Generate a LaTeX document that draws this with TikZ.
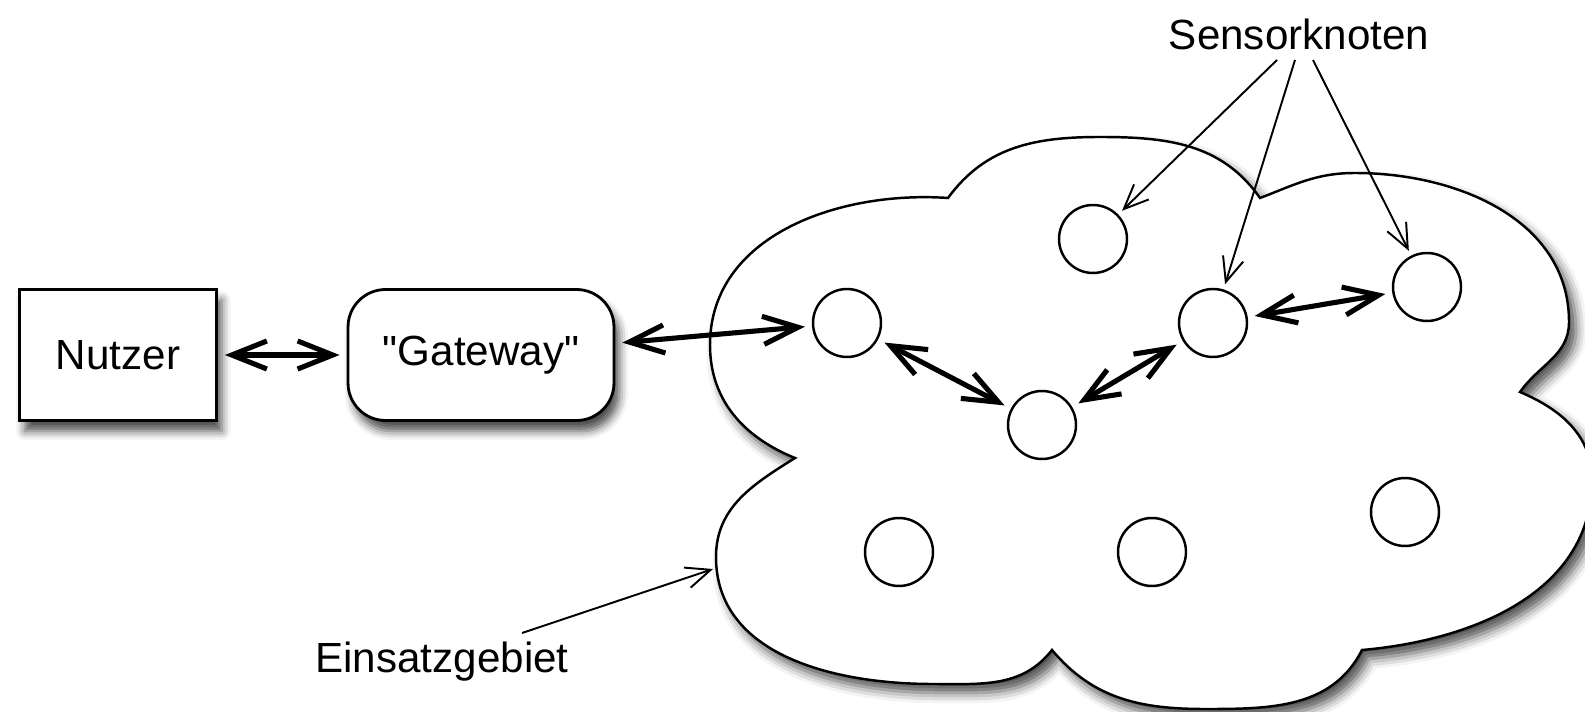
\documentclass[tikz,border=0pt]{standalone}
\usepackage{fontspec}
\setmainfont{Liberation Sans}[Ligatures=TeXOff]
\usetikzlibrary{arrows.meta,shadows.blur}
\tikzset{
  knoten/.style={draw, circle, line width=1.4pt, minimum size=1.36cm, inner sep=0pt},
  kasten/.style={draw, fill=white, line width=1.6pt, minimum width=3.94cm, minimum height=2.62cm,
      blur shadow={shadow xshift=3pt, shadow yshift=-6pt, shadow blur radius=5pt, shadow opacity=70}},
  doppel/.style={{Straight Barb[length=20pt,width=16pt]}-{Straight Barb[length=20pt,width=16pt]},
      line width=2.9pt, shorten <=4pt, shorten >=4pt},
  zeiger/.style={-{Straight Barb[length=14pt,width=12pt]}, line width=1.1pt}
}

\begin{document}
\begin{tikzpicture}[x=0.02cm,y=0.02cm,font=\fontsize{24}{28}\selectfont]
        \useasboundingbox (0,0) rectangle (1585,-712);

        % Einsatzgebiet
        \filldraw[fill=white, line width=1.4pt,
            blur shadow={shadow xshift=4pt, shadow yshift=-5pt, shadow blur radius=6pt, shadow opacity=70}]
          (795,-458) to[out=212,in=90] (716,-557) to[out=270,in=180] (933,-684)
          to[out=0,in=232] (1052,-650) to[out=-50,in=180] (1205,-709)
          to[out=0,in=243] (1362,-650) to[out=5,in=270] (1592,-480)
          to[out=90,in=-23] (1520,-392) to[out=55,in=270] (1569,-322)
          to[out=90,in=0] (1355,-173) to[out=180,in=21] (1260,-198)
          to[out=125,in=0] (1100,-137) to[out=180,in=54] (948,-198)
          to[out=176,in=90] (710,-345) to[out=270,in=158] (795,-458) -- cycle;

        \node[kasten](nutzer) at (118,-355){Nutzer};
        \node[kasten, rounded corners=0.75cm, minimum width=5.32cm](gateway) at (481,-355){"Gateway"};

        \node[knoten](k1) at (847,-323){};
        \node[knoten](k2) at (1093,-239){};
        \node[knoten](k3) at (1042,-425){};
        \node[knoten](k4) at (1213,-323){};
        \node[knoten](k5) at (1427,-287){};
        \node[knoten](k6) at (899,-552){};
        \node[knoten](k7) at (1152,-552){};
        \node[knoten](k8) at (1405,-512){};

        \node[anchor=base](sensor) at (1299,-50){Sensorknoten};
        \node[anchor=base](gebiet) at (442,-672){Einsatzgebiet};
        \coordinate (p1) at (1277,-60);
        \coordinate (p2) at (1295,-60);
        \coordinate (p3) at (1313,-60);
        \coordinate (g1) at (522,-633);
        \coordinate (g2) at (713,-569);

        \path[doppel]
        (nutzer) edge (gateway)
        (gateway) edge (k1)
        (k1) edge (k3)
        (k3) edge (k4)
        (k4) edge (k5)
        ;

        \path[zeiger, shorten >=3pt]
        (p1) edge (k2)
        (p2) edge (k4)
        (p3) edge (k5)
        ;
        \draw[zeiger] (g1) -- (g2);
      \end{tikzpicture}
\end{document}
